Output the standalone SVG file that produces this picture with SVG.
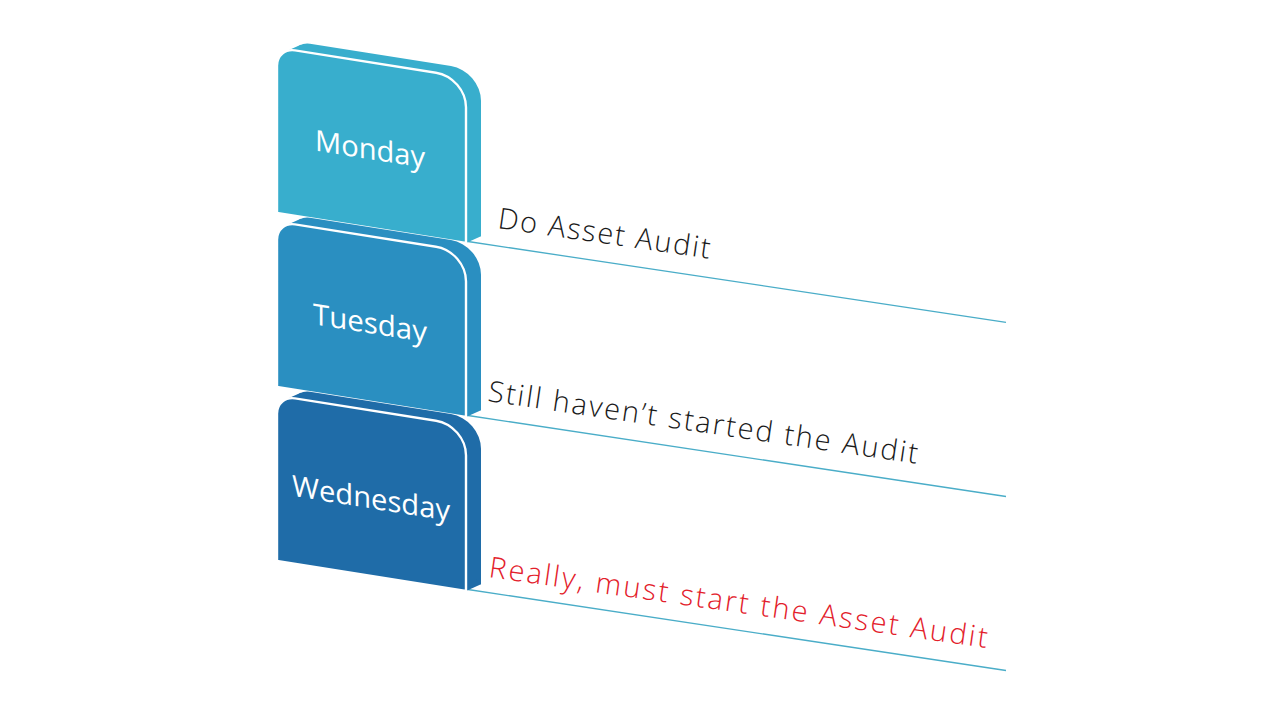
<svg xmlns="http://www.w3.org/2000/svg" xmlns:xlink="http://www.w3.org/1999/xlink" width="1280" height="720" viewBox="0 0 1280 720">
  <style>
    .front { stroke: #ffffff; stroke-width: 2.4; stroke-linejoin: round; }
    .day { font-family: "Open Sans", "Noto Sans", "DejaVu Sans", sans-serif; font-size: 29px; fill: #ffffff; text-anchor: middle; }
    .note { font-family: "Open Sans", "DejaVu Sans", sans-serif; font-weight: 300; font-size: 29px; fill: #1a1a1a; }
    .red { fill: #e3202b; }
    .line { stroke: #4aadc8; stroke-width: 1.3; fill: none; }
  </style>
  <defs>
    <path id="face" d="M0,165.5 L0,18 A18,18 0 0 1 18,0 L159,0 A30,30 0 0 1 189,30 L189,165.5 Z"/>
    <polygon id="hull" points="8.75,2.6 23.75,-6.4 204,156.5 189,165.5"/>
  </defs>
  <rect width="1280" height="720" fill="#ffffff"/>

  <g id="connectors">
    <line class="line" x1="468" y1="241.5" x2="1006" y2="322.3"/>
    <line class="line" x1="468" y1="415.5" x2="1006" y2="496.5"/>
    <line class="line" x1="468" y1="589.5" x2="1006" y2="670.5"/>
  </g>

  <g id="monday" transform="translate(277,47.5) skewY(9)">
    <use xlink:href="#face" href="#face" transform="translate(15,-9)" fill="#38aecd"/>
    <use xlink:href="#hull" href="#hull" fill="#38aecd"/>
    <use xlink:href="#face" href="#face" class="front" fill="#38aecd"/>
    <text class="day" x="93" y="97" textLength="110" lengthAdjust="spacingAndGlyphs">Monday</text>
  </g>

  <g id="tuesday" transform="translate(277,221.5) skewY(9)">
    <use xlink:href="#face" href="#face" transform="translate(15,-9)" fill="#2a8fc1"/>
    <use xlink:href="#hull" href="#hull" fill="#2a8fc1"/>
    <use xlink:href="#face" href="#face" class="front" fill="#2a8fc1"/>
    <text class="day" x="93" y="97" textLength="114" lengthAdjust="spacingAndGlyphs">Tuesday</text>
  </g>

  <g id="wednesday" transform="translate(277,395.5) skewY(9)">
    <use xlink:href="#face" href="#face" transform="translate(15,-9)" fill="#1f6ca8"/>
    <use xlink:href="#hull" href="#hull" fill="#1f6ca8"/>
    <use xlink:href="#face" href="#face" class="front" fill="#1f6ca8"/>
    <text class="day" x="94" y="98" textLength="158" lengthAdjust="spacingAndGlyphs">Wednesday</text>
  </g>

  <g id="notes">
    <text class="note" transform="translate(497,228) rotate(8.2)" textLength="214" lengthAdjust="spacing">Do Asset Audit</text>
    <text class="note" transform="translate(487,401) rotate(8.3)" textLength="434" lengthAdjust="spacing">Still haven’t started the Audit</text>
    <text class="note red" transform="translate(488,577) rotate(8.1)" textLength="503" lengthAdjust="spacing">Really, must start the Asset Audit</text>
  </g>
</svg>
